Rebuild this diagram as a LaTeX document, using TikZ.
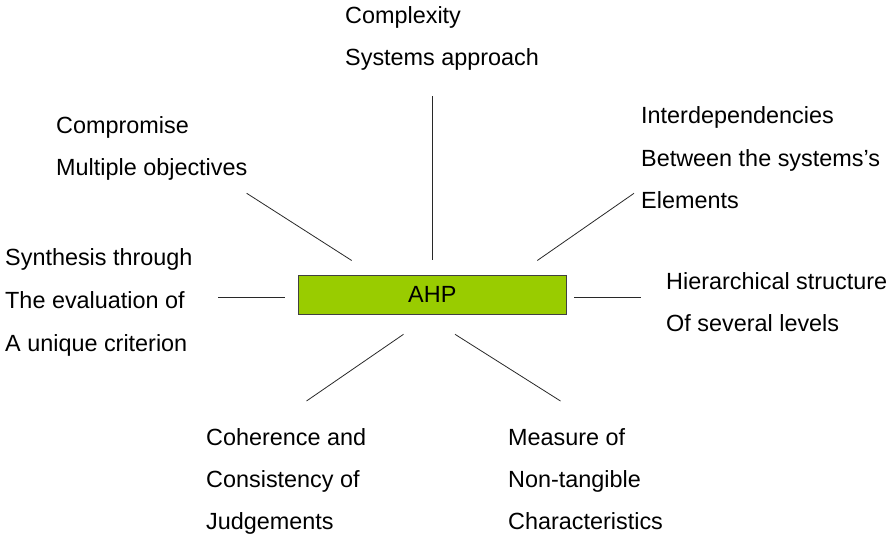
\documentclass[tikz,border=0pt]{standalone}
\usepackage{fontspec}
\setmainfont{Liberation Sans}
\definecolor{ahpgreen}{RGB}{153,204,0}
\definecolor{boxedge}{RGB}{64,64,64}
\definecolor{linegray}{RGB}{40,40,40}
\begin{document}
\begin{tikzpicture}[x=1pt,y=-1pt,
  lbl/.style={anchor=base west,inner sep=0pt,font=\fontsize{23.4}{28}\selectfont,text=black},
  conn/.style={draw=linegray,line width=0.8pt},
  ahpbox/.style={draw=boxedge,fill=ahpgreen,line width=1.1pt,minimum width=268pt,minimum height=39pt,inner sep=0pt,font=\fontsize{23.4}{28}\selectfont}]
\useasboundingbox (0,0) rectangle (888,534);
% central box
\node[ahpbox] (ahp) at (432.3,294.6) {AHP};
% labels
\node[lbl] (c1) at (345,23.5) {Complexity};
\node[lbl] (c2) at (345,66) {Systems approach};
\node[lbl] (m1) at (56,133.3) {Compromise};
\node[lbl] (m2) at (56,176) {Multiple objectives};
\node[lbl] (i1) at (641,124) {Interdependencies};
\node[lbl] (i2) at (641,166.5) {Between the systems’s};
\node[lbl] (i3) at (641,209) {Elements};
\node[lbl] (s1) at (5,265.7) {Synthesis through};
\node[lbl] (s2) at (5,308.3) {The evaluation of};
\node[lbl] (s3) at (5,351) {A unique criterion};
\node[lbl] (h1) at (666,289.3) {Hierarchical structure};
\node[lbl] (h2) at (666,331.7) {Of several levels};
\node[lbl] (k1) at (206,445) {Coherence and};
\node[lbl] (k2) at (206,487.3) {Consistency of};
\node[lbl] (k3) at (206,529.5) {Judgements};
\node[lbl] (n1) at (508,445) {Measure of};
\node[lbl] (n2) at (508,487.3) {Non-tangible};
\node[lbl] (n3) at (508,529.5) {Characteristics};
% connector end points
\coordinate (tA) at (432.5,96.5);   \coordinate (tB) at (432.5,260.5);
\coordinate (ulA) at (246.7,193.3); \coordinate (ulB) at (351.7,260.5);
\coordinate (urA) at (634,193.3);   \coordinate (urB) at (537.3,260.5);
\coordinate (lA) at (218,297.3);    \coordinate (lB) at (284.7,297.3);
\coordinate (rA) at (574.3,297.3);  \coordinate (rB) at (641,297.3);
\coordinate (llA) at (403.5,334.3); \coordinate (llB) at (306.5,401);
\coordinate (lrA) at (455,334.3);   \coordinate (lrB) at (560.5,401);
% connectors
\draw[conn] (tA) -- (tB);
\draw[conn] (ulA) -- (ulB);
\draw[conn] (urA) -- (urB);
\draw[conn] (lA) -- (lB);
\draw[conn] (rA) -- (rB);
\draw[conn] (llA) -- (llB);
\draw[conn] (lrA) -- (lrB);
\end{tikzpicture}
\end{document}
